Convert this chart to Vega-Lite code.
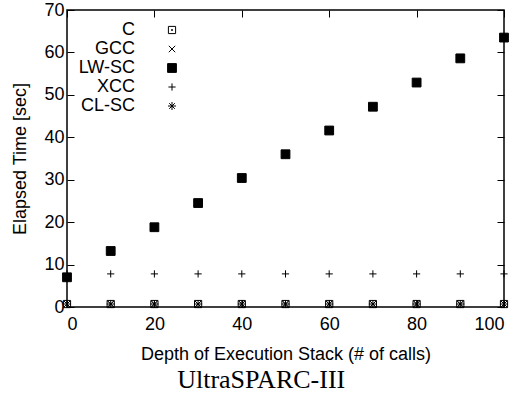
{
  "$schema": "https://vega.github.io/schema/vega-lite/v6.json",
  "autosize": "none",
  "width": 437,
  "height": 297,
  "padding": {"left": 67, "top": 10, "right": 11, "bottom": 96},
  "background": "white",
  "title": {"text": "UltraSPARC-III", "orient": "bottom", "frame": "bounds", "anchor": "middle", "font": "Liberation Serif", "fontSize": 26, "fontWeight": "normal", "color": "black", "offset": 4},
  "config": {
    "font": "Liberation Sans",
    "view": {"stroke": "black", "strokeWidth": 1.5},
    "axis": {"labelFontSize": 18, "titleFontSize": 18, "labelColor": "black", "titleColor": "black", "tickColor": "black", "titleFontWeight": "normal", "grid": false, "domain": false, "tickSize": -7, "tickWidth": 1},
    "legend": {"labelFontSize": 18, "labelColor": "black"}
  },
  "data": {"values": [
    {"series": "C", "depth": 0, "time": 0.7}, {"series": "C", "depth": 10, "time": 0.7}, {"series": "C", "depth": 20, "time": 0.7}, {"series": "C", "depth": 30, "time": 0.7}, {"series": "C", "depth": 40, "time": 0.7}, {"series": "C", "depth": 50, "time": 0.7}, {"series": "C", "depth": 60, "time": 0.7}, {"series": "C", "depth": 70, "time": 0.7}, {"series": "C", "depth": 80, "time": 0.7}, {"series": "C", "depth": 90, "time": 0.7}, {"series": "C", "depth": 100, "time": 0.7},
    {"series": "GCC", "depth": 0, "time": 0.7}, {"series": "GCC", "depth": 10, "time": 0.7}, {"series": "GCC", "depth": 20, "time": 0.7}, {"series": "GCC", "depth": 30, "time": 0.7}, {"series": "GCC", "depth": 40, "time": 0.7}, {"series": "GCC", "depth": 50, "time": 0.7}, {"series": "GCC", "depth": 60, "time": 0.7}, {"series": "GCC", "depth": 70, "time": 0.7}, {"series": "GCC", "depth": 80, "time": 0.7}, {"series": "GCC", "depth": 90, "time": 0.7}, {"series": "GCC", "depth": 100, "time": 0.7},
    {"series": "LW-SC", "depth": 0, "time": 7.0}, {"series": "LW-SC", "depth": 10, "time": 13.2}, {"series": "LW-SC", "depth": 20, "time": 18.8}, {"series": "LW-SC", "depth": 30, "time": 24.5}, {"series": "LW-SC", "depth": 40, "time": 30.4}, {"series": "LW-SC", "depth": 50, "time": 36.0}, {"series": "LW-SC", "depth": 60, "time": 41.6}, {"series": "LW-SC", "depth": 70, "time": 47.2}, {"series": "LW-SC", "depth": 80, "time": 52.9}, {"series": "LW-SC", "depth": 90, "time": 58.6}, {"series": "LW-SC", "depth": 100, "time": 63.5},
    {"series": "XCC", "depth": 0, "time": 7.8}, {"series": "XCC", "depth": 10, "time": 7.8}, {"series": "XCC", "depth": 20, "time": 7.8}, {"series": "XCC", "depth": 30, "time": 7.8}, {"series": "XCC", "depth": 40, "time": 7.8}, {"series": "XCC", "depth": 50, "time": 7.8}, {"series": "XCC", "depth": 60, "time": 7.8}, {"series": "XCC", "depth": 70, "time": 7.8}, {"series": "XCC", "depth": 80, "time": 7.8}, {"series": "XCC", "depth": 90, "time": 7.8}, {"series": "XCC", "depth": 100, "time": 7.8},
    {"series": "CL-SC", "depth": 0, "time": 0.7}, {"series": "CL-SC", "depth": 10, "time": 0.7}, {"series": "CL-SC", "depth": 20, "time": 0.7}, {"series": "CL-SC", "depth": 30, "time": 0.7}, {"series": "CL-SC", "depth": 40, "time": 0.7}, {"series": "CL-SC", "depth": 50, "time": 0.7}, {"series": "CL-SC", "depth": 60, "time": 0.7}, {"series": "CL-SC", "depth": 70, "time": 0.7}, {"series": "CL-SC", "depth": 80, "time": 0.7}, {"series": "CL-SC", "depth": 90, "time": 0.7}, {"series": "CL-SC", "depth": 100, "time": 0.7}
  ]},
  "layer": [
    {
      "mark": {"type": "point", "filled": false, "strokeWidth": 1, "size": 64, "opacity": 1},
      "encoding": {
        "x": {"field": "depth", "type": "quantitative", "scale": {"domain": [0, 100], "nice": false, "zero": false}, "axis": {"orient": "bottom", "values": [0, 20, 40, 60, 80, 100], "title": "Depth of Execution Stack (# of calls)", "labelPadding": 15, "titlePadding": 12}},
        "y": {"field": "time", "type": "quantitative", "scale": {"domain": [0, 70], "nice": false}, "axis": {"orient": "left", "values": [0, 10, 20, 30, 40, 50, 60, 70], "title": "Elapsed Time [sec]", "labelPadding": 10, "titlePadding": 14}},
        "shape": {"field": "series", "type": "nominal", "sort": ["C", "GCC", "LW-SC", "XCC", "CL-SC"],
          "scale": {"domain": ["C", "GCC", "LW-SC", "XCC", "CL-SC"], "range": [
            "M-0.9,-0.9H0.9V0.9H-0.9ZM-0.12,-0.12H0.12V0.12H-0.12Z",
            "M-0.8,-0.8L0.8,0.8M-0.8,0.8L0.8,-0.8",
            "M-1.1,-1.1H1.1V1.1H-1.1Z",
            "M-0.9,0H0.9M0,-0.9V0.9",
            "M-1,0H1M0,-1V1M-0.7,-0.7L0.7,0.7M-0.7,0.7L0.7,-0.7"
          ]},
          "legend": {"title": null, "orient": "none", "legendX": 96, "legendY": 11, "padding": 0, "labelAlign": "right", "labelOffset": -46, "rowPadding": 1, "symbolSize": 64, "symbolStrokeWidth": 1}},
        "fill": {"field": "series", "type": "nominal", "sort": ["C", "GCC", "LW-SC", "XCC", "CL-SC"],
          "scale": {"domain": ["C", "GCC", "LW-SC", "XCC", "CL-SC"], "range": ["transparent", "transparent", "black", "transparent", "transparent"]},
          "legend": {"title": null, "orient": "none", "legendX": 96, "legendY": 11, "padding": 0, "labelAlign": "right", "labelOffset": -46, "rowPadding": 1, "symbolSize": 64, "symbolStrokeWidth": 1}},
        "stroke": {"field": "series", "type": "nominal", "sort": ["C", "GCC", "LW-SC", "XCC", "CL-SC"],
          "scale": {"domain": ["C", "GCC", "LW-SC", "XCC", "CL-SC"], "range": ["black", "black", "black", "black", "black"]},
          "legend": {"title": null, "orient": "none", "legendX": 96, "legendY": 11, "padding": 0, "labelAlign": "right", "labelOffset": -46, "rowPadding": 1, "symbolSize": 64, "symbolStrokeWidth": 1}}
      }
    },
    {
      "mark": {"type": "point", "opacity": 0},
      "encoding": {
        "x": {"field": "depth", "type": "quantitative", "axis": {"orient": "top", "values": [0, 20, 40, 60, 80, 100], "labels": false, "title": null}},
        "y": {"field": "time", "type": "quantitative", "axis": {"orient": "right", "values": [0, 10, 20, 30, 40, 50, 60, 70], "labels": false, "title": null}}
      }
    }
  ],
  "resolve": {"axis": {"x": "independent", "y": "independent"}}
}
